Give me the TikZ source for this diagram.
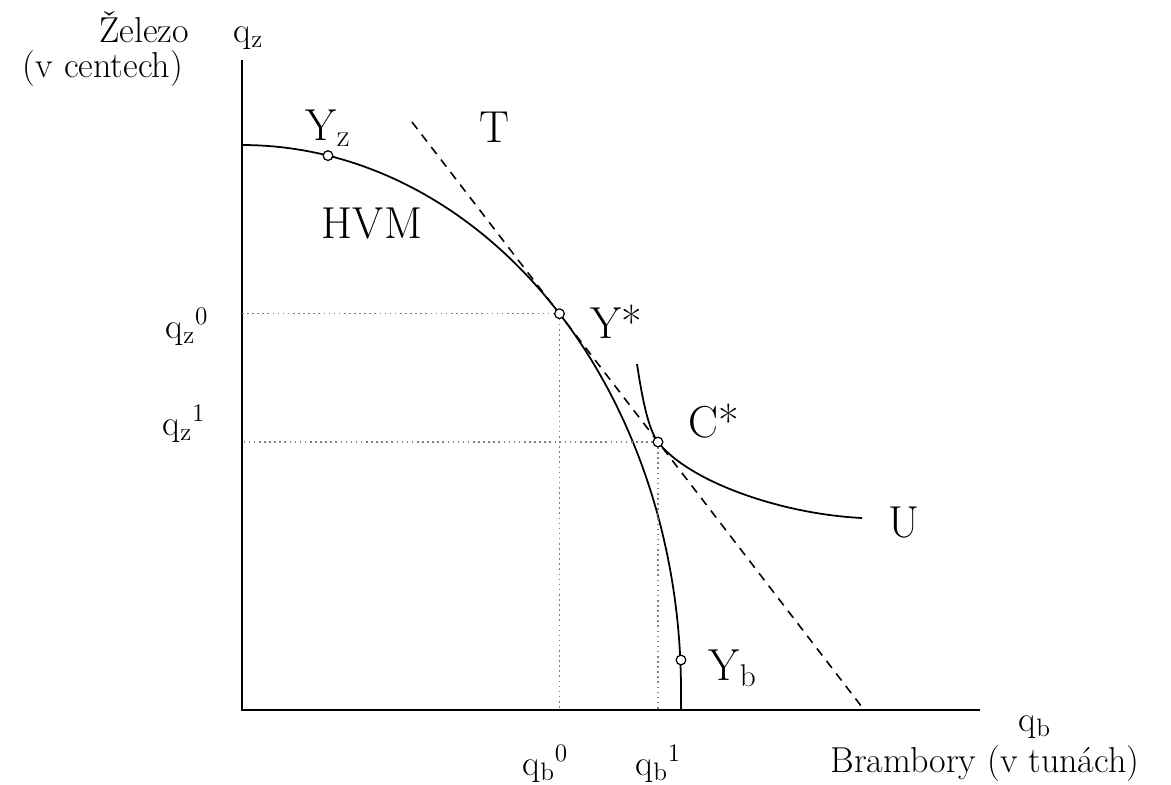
\documentclass[tikz,border=0pt]{standalone}
\usepackage{fontspec}
\begin{document}
\begin{tikzpicture}[x=0.02cm, y=-0.02cm, line width=1pt]
    \useasboundingbox (0,0) rectangle (1171,785);
    {
        \tikzset{every node/.style = {inner sep=0pt, font=\fontsize{20.5}{24}\selectfont}}
        \tikzset{velky/.style = {font=\fontsize{25.5}{30}\selectfont}}
        \tikzset{bod/.style = {shape=circle, draw, fill=white, inner sep=0pt, minimum size=5.5pt, line width=0.7pt}}
        \tikzset{pomocna/.style = {gray, dotted, line width=0.9pt}}

        \coordinate (O) at (242,710);
        \coordinate (ytop) at (242,60);
        \coordinate (xend) at (980,710);
        \coordinate (Yz) at (328,155.6);
        \coordinate (Ys) at (559.5,313.7);
        \coordinate (Cs) at (658,442);
        \coordinate (Yb) at (681,660);
        \coordinate (Tstart) at (412,122);
        \coordinate (Tend) at (865,711);
        \coordinate (Ustart) at (637,364);
        \coordinate (Uend) at (862,518);

        % osy
        \draw (ytop) -- (O) -- (xend);

        % HVM
        \draw plot[domain=90:0, samples=90, variable=\t] ({242+439*cos(\t)}, {690-545*sin(\t)}) -- (681,710);

        % T
        \draw[dash pattern=on 5pt off 4pt, line width=0.9pt] (Tstart) -- (Tend);

        % U
        \draw (Ustart) .. controls (642,397) and (648,429) .. (Cs) .. controls (688,481) and (780,514) .. (Uend);

        \draw[pomocna] (Ys) -- (Ys -| O);
        \draw[pomocna] (Ys) -- (Ys |- O);
        \draw[pomocna] (Cs) -- (Cs -| O);
        \draw[pomocna] (Cs) -- (Cs |- O);

        \node[bod] (bYz) at (Yz) {};
        \node[bod] (bYs) at (Ys) {};
        \node[bod] (bCs) at (Cs) {};
        \node[bod] (bYb) at (Yb) {};

        \node[anchor=base] (zelezo) at (144,42) {Železo};
        \node[anchor=base west] (qz) at (233,42) {q\textsubscript{z}};
        \node[anchor=base] (centech) at (103,77) {(v centech)};
        \node[velky, anchor=base west] (lYz) at (305,140) {Y\textsubscript{z}};
        \node[velky, anchor=base] (lT) at (494,142) {T};
        \node[velky, anchor=base] (lHVM) at (372,238) {HVM};
        \node[velky, anchor=base west] (lYs) at (590,338) {Y*};
        \node[velky, anchor=base west] (lCs) at (688,437) {C*};
        \node[velky, anchor=base west] (lU) at (888,537) {U};
        \node[velky, anchor=base west] (lYb) at (708,680) {Y\textsubscript{b}};
        \node[anchor=base west] (qz0) at (165,338) {q\textsubscript{z}\textsuperscript{0}};
        \node[anchor=base west] (qz1) at (162,435) {q\textsubscript{z}\textsuperscript{1}};
        \node[anchor=base west] (qb0) at (522,775) {q\textsubscript{b}\textsuperscript{0}};
        \node[anchor=base west] (qb1) at (635,775) {q\textsubscript{b}\textsuperscript{1}};
        \node[anchor=base west] (qb) at (1018,731) {q\textsubscript{b}};
        \node[anchor=base] (brambory) at (985,772) {Brambory (v tunách)};
    }
\end{tikzpicture}
\end{document}
